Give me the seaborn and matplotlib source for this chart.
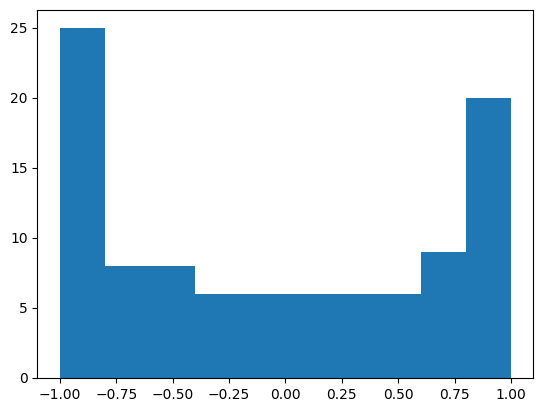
import matplotlib
matplotlib.use("Agg")
import matplotlib.pyplot as plt
import seaborn as sns
import numpy as np

bin_edges = [-1.0, -0.8, -0.6, -0.4, -0.2, 0.0, 0.2, 0.4, 0.6, 0.8, 1.0]
counts = [25, 8, 8, 6, 6, 6, 6, 6, 9, 20]

centers = [(a + b) / 2 for a, b in zip(bin_edges[:-1], bin_edges[1:])]

fig, ax = plt.subplots(figsize=(5.43, 4.13), dpi=100)
sns.histplot(x=centers, weights=counts, bins=bin_edges, ax=ax,
             color="#1f77b4", alpha=1.0, edgecolor="none", linewidth=0)
ax.set_xlabel("")
ax.set_ylabel("")
ax.set_xticks([-1.0, -0.75, -0.5, -0.25, 0.0, 0.25, 0.5, 0.75, 1.0])
ax.set_xticklabels(["−1.00", "−0.75", "−0.50", "−0.25", "0.00", "0.25", "0.50", "0.75", "1.00"])
ax.set_yticks([0, 5, 10, 15, 20, 25])
ax.set_xlim(-1.1, 1.1)
ax.set_ylim(0, 26.25)
fig.subplots_adjust(left=0.069, right=0.9825, bottom=0.085, top=0.975)
fig.savefig("out.png", dpi=100)
